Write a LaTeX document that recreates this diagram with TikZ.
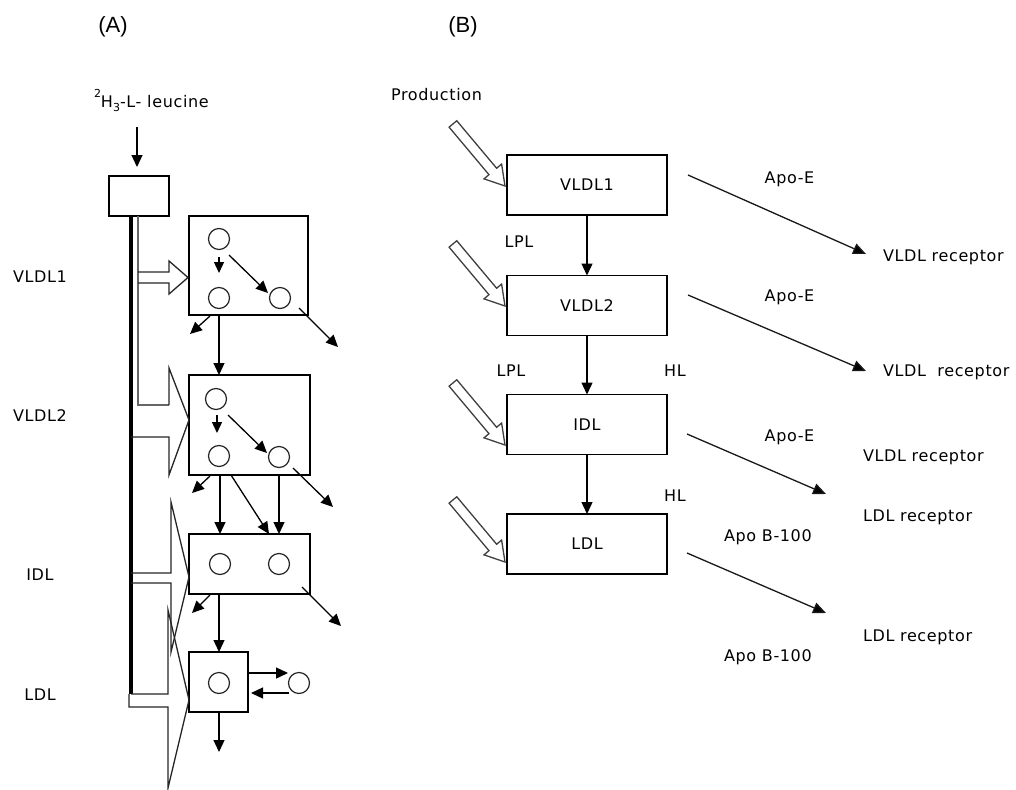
\documentclass[tikz,border=0pt]{standalone}
\usepackage{fontspec}
\setmainfont{DejaVu Sans}[LetterSpace=4]
\newfontfamily\titlefont{Liberation Sans}
\usetikzlibrary{arrows.meta,calc}
\tikzset{
  lbl/.style={font=\fontsize{16}{19}\selectfont, inner sep=0pt, outer sep=0pt},
  ttl/.style={font=\titlefont\fontsize{22}{26}\selectfont, inner sep=0pt},
  abox/.style={draw, line width=1.5pt, inner sep=0pt, outer sep=0pt},
  bbox/.style={draw, line width=1.5pt, minimum width=160pt, minimum height=60pt,
    inner sep=0pt, outer sep=0pt, font=\fontsize{16}{19}\selectfont},
  circ/.style={draw=black!85, circle, minimum size=21pt, inner sep=0pt, outer sep=0pt, line width=1.2pt},
  arr/.style={line width=1.3pt, -{Triangle[length=12pt,width=11pt]}},
  sarr/.style={line width=1.3pt, -{Triangle[length=11pt,width=10pt]}},
  darr/.style={line width=1.3pt, black!90, -{Triangle[length=13pt,width=11pt,fill=black]}},
  hol/.style={draw=black!85, line width=1.3pt, line join=miter},
  holb/.style={draw=black!75, line width=1.3pt, fill=white, line join=miter},
  stemblack/.style={line width=3.2pt, black},
  stemgray/.style={line width=2pt, black!60},
}
\newcommand\prodarrow[1]{%
  \begin{scope}[shift={(#1)}, rotate=-50]
    \draw[holb] (0,0) -- (-19,11.5) -- (-19,5) -- (-81,5) -- (-81,-5) -- (-19,-5) -- (-19,-11.5) -- cycle;
  \end{scope}}
\begin{document}
\begin{tikzpicture}[x=1pt,y=-1pt]
\useasboundingbox (0,0) rectangle (1016,789);
\fill[white] (0,0) rectangle (1016,789);

% titles
\node[ttl, anchor=base] (ta) at (113,33) {(A)};
\node[ttl, anchor=base] (tb) at (463,33) {(B)};

% ---------------- panel A ----------------
\node[lbl, anchor=base west] (leu) at (94,108)
  {\raisebox{10pt}{\fontsize{11}{12}\selectfont 2}H\raisebox{-4pt}{\fontsize{11}{12}\selectfont 3}-L- leucine};
\node[lbl, anchor=base] (la1) at (40,282) {VLDL1};
\node[lbl, anchor=base] (la2) at (40,421) {VLDL2};
\node[lbl, anchor=base] (la3) at (40,580) {IDL};
\node[lbl, anchor=base] (la4) at (40,700) {LDL};

\node[abox, minimum width=60pt, minimum height=40pt] (sb) at (139,196) {};
\node[abox, minimum width=119pt, minimum height=99pt] (b1) at (248.5,265.5) {};
\node[abox, minimum width=121pt, minimum height=100pt] (b2) at (249.5,425) {};
\node[abox, minimum width=121pt, minimum height=60pt] (b3) at (249.5,564) {};
\node[abox, minimum width=59pt, minimum height=60pt] (b4) at (218.5,682) {};

\node[circ] (c11) at (219,239) {};
\node[circ] (c12) at (219,298) {};
\node[circ] (c13) at (280,298) {};
\node[circ] (c21) at (216,399) {};
\node[circ] (c22) at (219,456) {};
\node[circ] (c23) at (279,457) {};
\node[circ] (c31) at (220,564) {};
\node[circ] (c32) at (279,564) {};
\node[circ] (c41) at (219,683) {};
\node[circ] (c5) at (299,683) {};

% stem and hollow arrows
\draw[stemblack] (131,216) -- (131,694);
\draw[stemgray] (138,216) -- (138,405) -- (169,405);
\draw[hol] (138,272) -- (169,272) -- (169,261) -- (188,277.5) -- (169,294) -- (169,283) -- (138,283);
\draw[hol] (169,405) -- (169,368) -- (189,420) -- (169,475) -- (169,437) -- (131,437);
\draw[hol] (131,573) -- (171,573) -- (171,502) -- (189,577) -- (171,652) -- (171,583) -- (131,583);
\draw[hol] (131,694) -- (168,694) -- (168,610) -- (189,700) -- (168,788) -- (168,707) -- (129,707) -- (129,694);

% tracer arrow
\draw[arr] ($(sb.north)+(-2,-49)$) -- ($(sb.north)+(-2,-9)$);

% box 1
\draw[sarr] ($(c11)+(0,18)$) -- ($(c11)+(0,34)$);
\draw[arr] ($(c11)+(10,16)$) -- ($(c13)+(-12,-5)$);
\draw[arr] ($(c12)+(-9,18)$) -- ($(c12)+(-29,36)$);
\draw[arr] (c12 |- b1.south) -- (c12 |- b2.north);
\draw[arr] ($(c13)+(19,10)$) -- ($(c13)+(58,49)$);

% box 2
\draw[sarr] ($(c21)+(1,16)$) -- ($(c21)+(1,34)$);
\draw[arr] ($(c21)+(12,16)$) -- ($(c23)+(-12,-4)$);
\draw[arr] ($(c22)+(-9,20)$) -- ($(c22)+(-27,37)$);
\draw[arr] ($(c23)+(14,11)$) -- ($(c23)+(54,50)$);
\draw[arr] (c31 |- b2.south) -- (c31 |- b3.north);
\draw[arr] ($(b2.south west)+(42,0)$) -- ($(b3.north west)+(80,0)$);
\draw[arr] (c32 |- b2.south) -- (c32 |- b3.north);

% box 3
\draw[arr] ($(c31)+(-10,31)$) -- ($(c31)+(-28,49)$);
\draw[arr] ($(c32)+(23,23)$) -- ($(c32)+(62,62)$);
\draw[arr] (c41 |- b3.south) -- (c41 |- b4.north);

% box 4
\draw[arr] ($(b4.east)+(0,-9)$) -- ($(c5)+(-11,-10)$);
\draw[arr] ($(c5)+(-10,10)$) -- ($(b4.east)+(3,11)$);
\draw[arr] (c41 |- b4.south) -- ($(c41 |- b4.south)+(0,40)$);

% ---------------- panel B ----------------
\node[lbl, anchor=base] (prod) at (436.5,100) {Production};
\node[bbox] (v1) at (587,185) {VLDL1};
\node[bbox] (v2) at (587,305.5) {VLDL2};
\node[bbox] (idl) at (587,424.5) {IDL};
\node[bbox] (ldl) at (587,544) {LDL};

\draw[arr] (v1.south) -- (v2.north);
\draw[arr] (v2.south) -- (idl.north);
\draw[arr] (idl.south) -- (ldl.north);

\coordinate (p1) at (505,186);
\coordinate (p2) at (505,306);
\coordinate (p3) at (505,445);
\coordinate (p4) at (505,562);
\prodarrow{p1}
\prodarrow{p2}
\prodarrow{p3}
\prodarrow{p4}

\draw[darr] ($(v1.east)+(21,-10)$) -- ($(v1.east)+(199,69)$);
\draw[darr] ($(v2.east)+(21,-10.5)$) -- ($(v2.east)+(199,65.5)$);
\draw[darr] ($(idl.east)+(20,9.5)$) -- ($(idl.east)+(159,69.5)$);
\draw[darr] ($(ldl.east)+(20,9)$) -- ($(ldl.east)+(159,69)$);

\node[lbl, anchor=base] (lpl1) at (519,247.5) {LPL};
\node[lbl, anchor=base] (lpl2) at (511,376) {LPL};
\node[lbl, anchor=base] (hl1) at (675,376) {HL};
\node[lbl, anchor=base] (hl2) at (675,501) {HL};

\node[lbl, anchor=base] (ae1) at (789.5,183) {Apo-E};
\node[lbl, anchor=base] (ae2) at (789.5,301) {Apo-E};
\node[lbl, anchor=base] (ae3) at (789.5,441.5) {Apo-E};

\node[lbl, anchor=base west] (vr1) at (883,261) {VLDL receptor};
\node[lbl, anchor=base west] (vr2) at (883,376) {VLDL\ \ receptor};
\node[lbl, anchor=base west] (vr3) at (863,461) {VLDL receptor};
\node[lbl, anchor=base west] (lr1) at (863,521) {LDL receptor};
\node[lbl, anchor=base west] (lr2) at (863,641) {LDL receptor};
\node[lbl, anchor=base west] (ab1) at (724,541) {Apo B-100};
\node[lbl, anchor=base west] (ab2) at (724,661) {Apo B-100};
\end{tikzpicture}
\end{document}
